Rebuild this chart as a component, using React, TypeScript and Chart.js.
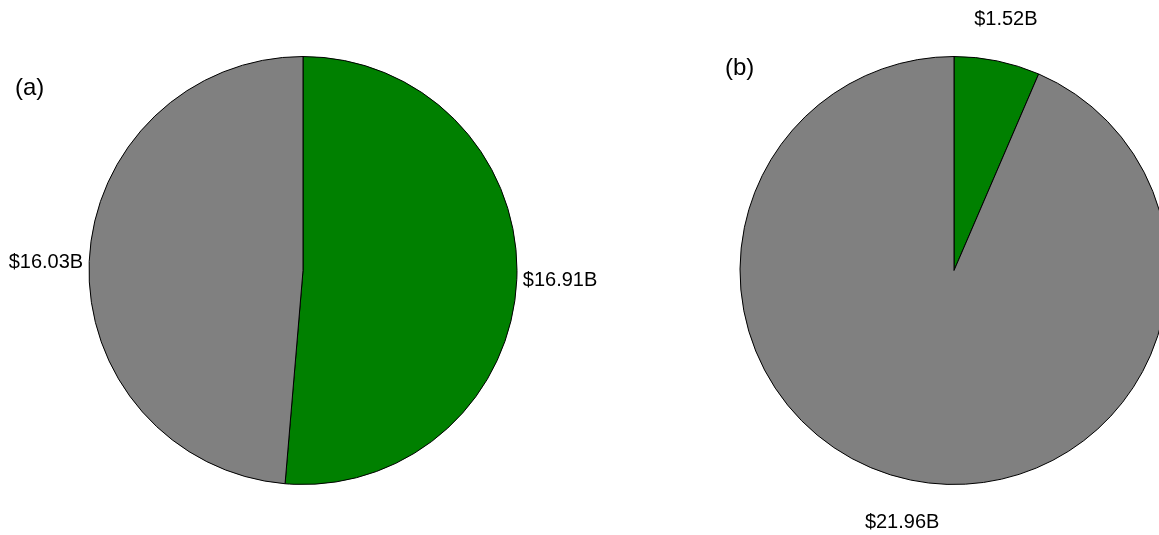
import React, { useEffect, useRef } from "react";
import { Chart, registerables } from "chart.js";

Chart.register(...registerables);

const categories = ["Green", "Gray"];
const valuesA = [16.91, 16.03];
const valuesB = [1.52, 21.96];
const labelsA = ["$16.91B", "$16.03B"];
const labelsB = ["$1.52B", "$21.96B"];
const sliceColors = ["#008000", "#808080"];

const FONT = "'Liberation Sans', Arial, Helvetica, sans-serif";

const outerLabels = {
  id: "outerLabels",
  afterDatasetsDraw(chart: any, _args: any, opts: any) {
    const ctx = chart.ctx;
    const meta = chart.getDatasetMeta(0);
    const texts: string[] = opts.texts || [];
    ctx.save();
    ctx.fillStyle = "#000";
    ctx.font = `20px ${FONT}`;
    meta.data.forEach((arc: any, i: number) => {
      const { x, y, startAngle, endAngle, outerRadius } = arc.getProps(
        ["x", "y", "startAngle", "endAngle", "outerRadius"],
        true
      );
      const mid = (startAngle + endAngle) / 2;
      const c = Math.cos(mid);
      const s = Math.sin(mid);
      const t = texts[i];
      if (!t) return;
      if (Math.abs(c) > 0.7) {
        const r = outerRadius + 6;
        ctx.textAlign = c > 0 ? "left" : "right";
        ctx.textBaseline = "middle";
        ctx.fillText(t, x + c * r, y + s * r + 1);
      } else {
        const r = outerRadius * 1.2;
        ctx.textAlign = "center";
        ctx.textBaseline = "middle";
        ctx.fillText(t, x + c * r, y + s * r);
      }
    });
    ctx.restore();
  },
};

function PieChart(props: {
  values: number[];
  texts: string[];
  left: number;
  width: number;
}) {
  const ref = useRef<HTMLCanvasElement | null>(null);
  useEffect(() => {
    if (!ref.current) return;
    const chart = new Chart(ref.current, {
      type: "pie",
      data: {
        labels: categories,
        datasets: [
          {
            data: props.values,
            backgroundColor: sliceColors,
            borderColor: "#000000",
            borderWidth: 1,
            hoverOffset: 0,
          },
        ],
      },
      options: {
        responsive: false,
        animation: false,
        radius: 214,
        layout: { padding: { top: 6, bottom: 0, left: 0, right: 0 } },
        plugins: {
          legend: { display: false },
          tooltip: { enabled: false },
          outerLabels: { texts: props.texts },
        } as any,
      } as any,
      plugins: [outerLabels],
    });
    return () => chart.destroy();
  }, []);
  return (
    <canvas
      ref={ref}
      width={props.width}
      height={535}
      style={{
        position: "absolute",
        left: props.left,
        top: 0,
        width: props.width,
        height: 535,
      }}
    />
  );
}

export default function App() {
  useEffect(() => {
    document.body.style.margin = "0";
  }, []);
  const titleStyle: React.CSSProperties = {
    position: "absolute",
    fontFamily: FONT,
    fontSize: 24,
    lineHeight: "24px",
    color: "#000",
  };
  return (
    <div
      style={{
        position: "fixed",
        left: 0,
        top: 0,
        width: 1159,
        height: 535,
        overflow: "hidden",
        background: "#fff",
      }}
    >
      <PieChart values={valuesA} texts={labelsA} left={0} width={606} />
      <PieChart values={valuesB} texts={labelsB} left={654} width={600} />
      <div style={{ ...titleStyle, left: 15, top: 75 }}>(a)</div>
      <div style={{ ...titleStyle, left: 725, top: 55 }}>(b)</div>
    </div>
  );
}
